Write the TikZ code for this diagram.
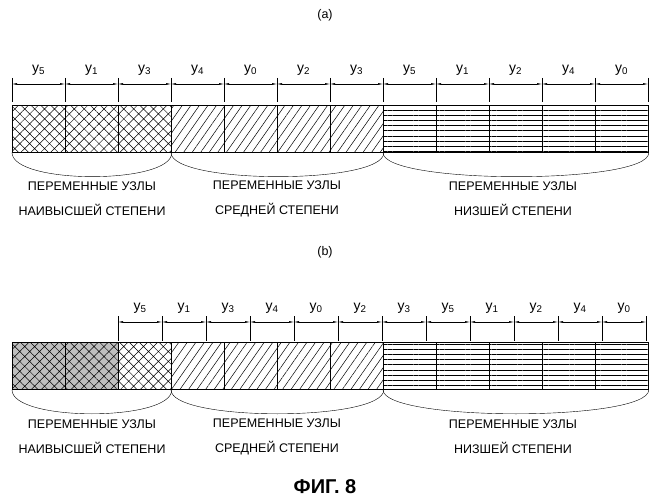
\documentclass[tikz,border=0pt]{standalone}
\usepackage{fontspec}
\setmainfont{Liberation Sans}
\usetikzlibrary{patterns.meta,arrows.meta}

\begin{document}
\begin{tikzpicture}[x=1pt,y=-1pt,
  cellstyle/.style={draw=black, thick, minimum width=53pt, minimum height=47pt, anchor=north west, inner sep=0pt},
  high box/.style={cellstyle, pattern={Hatch[angle=45,distance=7pt,line width=0.5pt]}},
  mid box/.style={cellstyle, pattern={Lines[angle=55,distance=7pt,line width=0.5pt]}},
  low box/.style={cellstyle, pattern={Lines[angle=0,distance=5.2pt,line width=0.6pt]}},
  textstyle/.style={black, align=center, font=\fontsize{12.5}{25}\selectfont},
  labelstyle/.style={black, font=\fontsize{14}{16}\selectfont},
  dimstyle/.style={{Latex[length=5pt,width=2pt]}-{Latex[length=5pt,width=2pt]}, thin}]

  \useasboundingbox (0,0) rectangle (651,500);

  % (a)
  \node[textstyle] (capa) at (325,15) {(a)};
  \foreach \t [count=\i from 0] in {high,high,high,mid,mid,mid,mid,low,low,low,low,low} {
    \node[\t\space box] (a\i) at (12+53*\i,105) {};
  };
  \foreach \l [count=\i from 0] in {5,1,3,4,0,2,3,5,1,2,4,0} {
    \coordinate (ta\i) at (12+53*\i,78);
    \coordinate (ua\i) at (12+53*\i+53,78);
    \draw (ta\i) -- ++(0,24);
    \draw[dimstyle] ([yshift=-6pt]ta\i) -- ([yshift=-6pt]ua\i);
    \node[labelstyle] (la\i) at (12+53*\i+26.5,70) {y\textsubscript{\l}};
  };
  \draw (ua11) -- ++(0,24);

  % braces (a)
  \foreach \p/\q in {0/2,3/6,7/11} {
    \draw (a\p.south west) .. controls ([yshift=-32pt]a\p.south west) and ([yshift=-32pt]a\q.south east) .. (a\q.south east);
  };
  \node[textstyle] (na1) at (92,199) {ПЕРЕМЕННЫЕ УЗЛЫ\\НАИВЫСШЕЙ СТЕПЕНИ};
  \node[textstyle] (na2) at (277,199) {ПЕРЕМЕННЫЕ УЗЛЫ\\СРЕДНЕЙ СТЕПЕНИ};
  \node[textstyle] (na3) at (513,199) {ПЕРЕМЕННЫЕ УЗЛЫ\\НИЗШЕЙ СТЕПЕНИ};

  % (b)
  \node[textstyle] (capb) at (325,252) {(b)};
  \foreach \t [count=\i from 0] in {high,high,high,mid,mid,mid,mid,low,low,low,low,low} {
    \node[\t\space box] (b\i) at (12+53*\i,342) {};
  };
  \foreach \i in {0,1} {
    \fill[black!25] (b\i.north west) rectangle (b\i.south east);
    \draw[thick, pattern={Hatch[angle=45,distance=7pt,line width=0.5pt]}] (b\i.north west) rectangle (b\i.south east);
  };
  \foreach \l [count=\i from 0] in {5,1,3,4,0,2,3,5,1,2,4,0} {
    \coordinate (tb\i) at (118+44*\i,316);
    \coordinate (ub\i) at (118+44*\i+44,316);
    \draw (tb\i) -- ++(0,25);
    \draw[dimstyle] ([yshift=-6pt]tb\i) -- ([yshift=-6pt]ub\i);
    \node[labelstyle] (lb\i) at (118+44*\i+22,308) {y\textsubscript{\l}};
  };
  \draw (ub11) -- ++(0,25);

  % braces (b)
  \foreach \p/\q in {0/2,3/6,7/11} {
    \draw (b\p.south west) .. controls ([yshift=-32pt]b\p.south west) and ([yshift=-32pt]b\q.south east) .. (b\q.south east);
  };
  \node[textstyle] (nb1) at (92,437) {ПЕРЕМЕННЫЕ УЗЛЫ\\НАИВЫСШЕЙ СТЕПЕНИ};
  \node[textstyle] (nb2) at (277,437) {ПЕРЕМЕННЫЕ УЗЛЫ\\СРЕДНЕЙ СТЕПЕНИ};
  \node[textstyle] (nb3) at (513,437) {ПЕРЕМЕННЫЕ УЗЛЫ\\НИЗШЕЙ СТЕПЕНИ};

  \node[textstyle, font=\bfseries\fontsize{20}{22}\selectfont] (fig) at (325,487) {ФИГ. 8};

\end{tikzpicture}
\end{document}
